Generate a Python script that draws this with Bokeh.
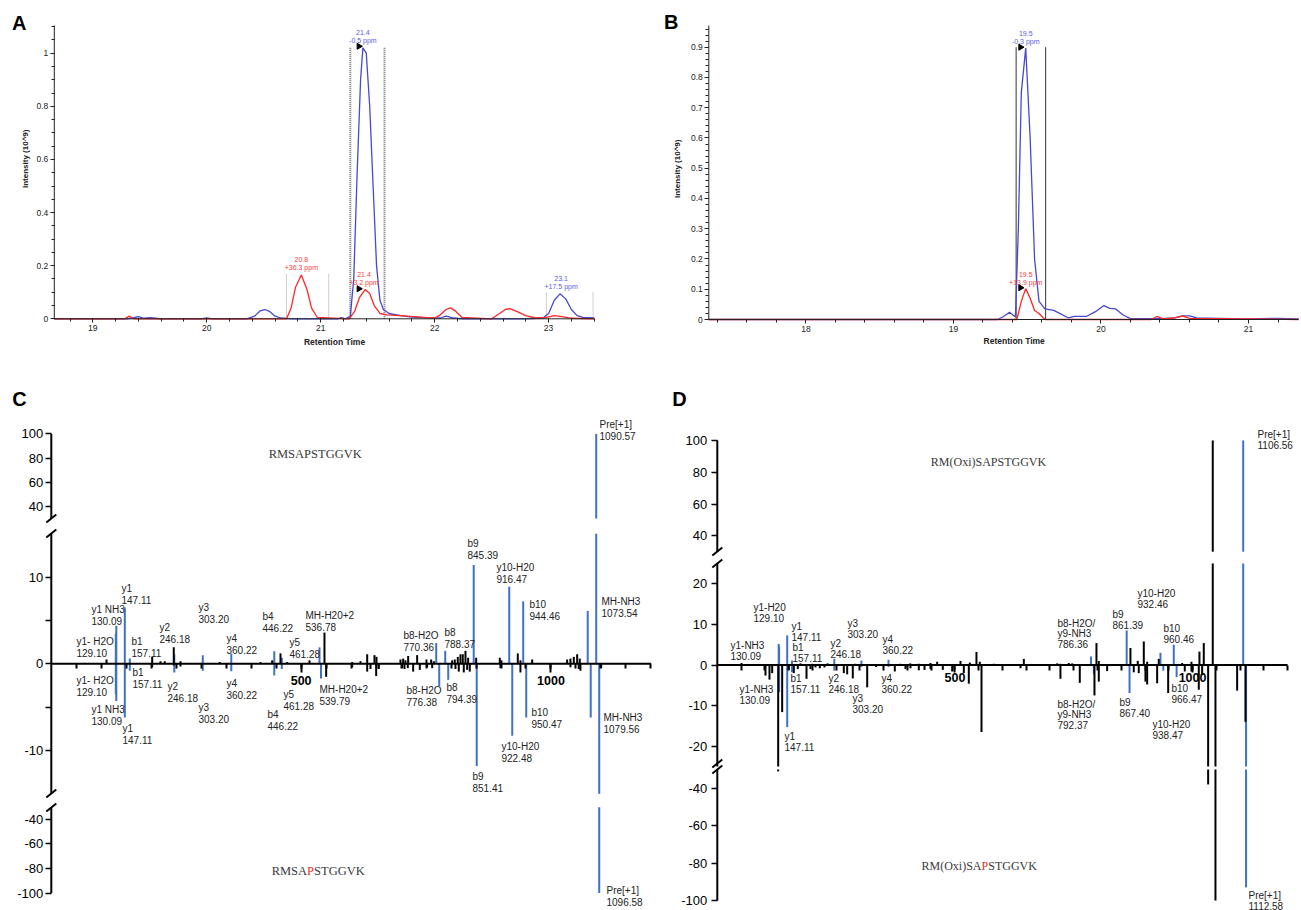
import numpy as np
from bokeh.plotting import figure
from bokeh.models import Range1d, FixedTicker, CustomJSTickFormatter
from bokeh.layouts import row, column
from bokeh.embed import file_html
from bokeh.resources import INLINE
from bokeh.core.properties import value

# ======================= DATA =======================
# ---- Panel A: extracted ion chromatograms (retention time, intensity 10^9)
a_blue_rt = [18.66, 19.30, 19.35, 19.40, 19.45, 19.50, 19.55, 19.60, 19.95, 20.00, 20.05, 20.35, 20.42,
             20.47, 20.51, 20.55, 20.60, 20.65, 20.75, 21.15, 21.18, 21.22, 21.26, 21.29, 21.32, 21.35,
             21.37, 21.40, 21.43, 21.46, 21.49, 21.52, 21.55, 21.60, 21.70, 21.80, 21.95, 22.05, 22.10,
             22.15, 22.25, 22.80, 22.95, 23.00, 23.05, 23.10, 23.15, 23.20, 23.25, 23.30, 23.40]
a_blue_int = [0, 0, 0.003, 0.008, 0.002, 0.004, 0.002, 0, 0, 0.003, 0, 0, 0.010,
              0.030, 0.035, 0.028, 0.010, 0.003, 0, 0, 0.004, 0, 0.010, 0.150, 0.550, 0.900,
              1.020, 1.000, 0.800, 0.500, 0.200, 0.070, 0.035, 0.020, 0.012, 0.006, 0.004, 0.003, 0.010,
              0.004, 0, 0, 0.003, 0.020, 0.070, 0.094, 0.075, 0.035, 0.012, 0.005, 0.003]
a_red_rt = [18.66, 19.28, 19.32, 19.36, 20.70, 20.74, 20.78, 20.83, 20.88, 20.92, 20.97, 21.25, 21.30,
            21.34, 21.39, 21.43, 21.47, 21.52, 21.58, 21.70, 21.90, 22.00, 22.05, 22.10, 22.14, 22.18,
            22.24, 22.50, 22.57, 22.62, 22.66, 22.72, 22.80, 22.88, 22.98, 23.05, 23.12, 23.20, 23.40]
a_red_int = [0, 0, 0.010, 0, 0, 0.040, 0.120, 0.165, 0.110, 0.040, 0.005, 0, 0.030,
             0.080, 0.110, 0.095, 0.050, 0.020, 0.015, 0.012, 0.005, 0.003, 0.015, 0.035, 0.041, 0.030,
             0.005, 0, 0.020, 0.035, 0.038, 0.028, 0.012, 0.003, 0.005, 0.012, 0.008, 0.002, 0]
a_ann_rt = [21.37, 20.83, 21.38, 23.11]
a_ann_time = ["21.4", "20.8", "21.4", "23.1"]
a_ann_ppm = ["-0.5 ppm", "+36.3 ppm", "+3.2 ppm", "+17.5 ppm"]
a_ann_trace = ["blue", "red", "red", "blue"]
a_apex_rt = [21.335, 21.335]
a_apex_int = [1.026, 0.113]
a_win_rt = [21.26, 21.56]          # integration window (dashed)
a_win_top = 1.023
a_bound_rt = [20.70, 21.07, 22.98, 23.39]
a_bound_top = [0.169, 0.169, 0.100, 0.100]
a_xticks = [19, 20, 21, 22, 23]
a_yticks = [0, 0.2, 0.4, 0.6, 0.8, 1.0]

# ---- Panel B
b_blue_rt = [17.34, 19.30, 19.34, 19.38, 19.42, 19.44, 19.46, 19.49, 19.52, 19.55, 19.58, 19.62, 19.68,
             19.72, 19.78, 19.82, 19.90, 19.96, 20.02, 20.06, 20.10, 20.15, 20.20, 20.40, 20.50, 20.56,
             20.60, 20.65, 20.80, 21.00, 21.20, 21.34]
b_blue_int = [0, 0, 0.010, 0.024, 0.008, 0.300, 0.750, 0.897, 0.600, 0.200, 0.060, 0.035, 0.030,
              0.020, 0.005, 0.010, 0.010, 0.025, 0.046, 0.037, 0.035, 0.015, 0.003, 0.003, 0.005, 0.012,
              0.012, 0.005, 0.004, 0.002, 0.004, 0.002]
b_red_rt = [17.34, 19.43, 19.46, 19.49, 19.52, 19.55, 19.58, 19.62, 20.34, 20.38, 20.42, 20.50, 20.55,
            20.60, 21.34]
b_red_int = [0, 0, 0.060, 0.102, 0.070, 0.030, 0.020, 0, 0, 0.010, 0.002, 0.005, 0.012, 0.004, 0]
b_ann_rt = [19.49, 19.49]
b_ann_time = ["19.5", "19.5"]
b_ann_ppm = ["-0.3 ppm", "+13.9 ppm"]
b_ann_trace = ["blue", "red"]
b_apex_rt = [19.455, 19.455]
b_apex_int = [0.900, 0.105]
b_win_rt = [19.425, 19.625]
b_win_top = 0.90
b_xticks = [18, 19, 20, 21]
b_yticks = [0, 0.1, 0.2, 0.3, 0.4, 0.5, 0.6, 0.7, 0.8, 0.9]

# ---- Panel C: mirrored MS/MS spectra (m/z, relative intensity)
c_up_names = ["y1- H2O", "y1 NH3", "y1", "b1", "y2", "y3", "y4", "b4", "y5", "MH-H20+2", "b8-H2O", "b8",
              "b9", "y10-H20", "b10", "MH-NH3", "Pre[+1]"]
c_up_mz = [129.10, 130.09, 147.11, 157.11, 246.18, 303.20, 360.22, 446.22, 461.28, 536.78, 770.36, 788.37,
           845.39, 916.47, 944.46, 1073.54, 1090.57]
c_up_int = [3.5, 4.4, 6.5, 0.6, 1.1, 1.0, 1.15, 1.45, 0.7, 1.9, 2.4, 1.5, 11.4, 8.9, 7.2, 6.1, 100]
c_lo_names = ["y1- H2O", "y1 NH3", "y1", "b1", "y2", "y3", "y4", "b4", "y5", "MH-H20+2", "b8-H2O", "b8",
              "b9", "y10-H20", "b10", "MH-NH3", "Pre[+1]"]
c_lo_mz = [129.10, 130.09, 147.11, 157.11, 246.18, 303.20, 360.22, 446.22, 461.28, 539.79, 776.38, 794.39,
           851.41, 922.48, 950.47, 1079.56, 1096.58]
c_lo_int = [-3.5, -4.3, -6.2, -0.8, -1.0, -0.8, -0.85, -1.35, -0.6, -1.7, -2.6, -1.85, -11.8, -8.3, -6.2,
            -6.2, -100]
c_noise_up_mz = [110.5, 201.9, 218.5, 227.0, 245.1, 258.6, 337.0, 418.6, 442.0, 458.7, 472.0, 516.7, 546.7,
                 602.2, 618.8, 632.2, 646.8, 650.8, 698.8, 704.2, 708.8, 714.2, 732.2, 750.8, 760.2, 765.5,
                 802.3, 807.5, 813.5, 818.9, 823.5, 828.9, 834.2, 850.3, 897.6, 900.9, 933.6, 938.9, 962.4,
                 1032.4, 1039.0, 1045.7, 1052.4, 1057.6]
c_noise_up_int = [0.5, 0.8, 0.3, 0.3, 1.9, 0.3, 0.2, 0.2, 0.4, 1.2, 0.2, 0.4, 3.6,
                  0.2, 0.3, 1.1, 1.0, 0.8, 0.5, 0.6, 0.4, 0.9, 1.0, 0.5, 0.5, 0.3,
                  0.4, 0.5, 0.8, 1.1, 1.1, 1.5, 0.7, 0.7, 0.7, 0.4, 1.2, 0.4, 0.5,
                  0.5, 0.6, 0.8, 1.1, 0.6]
c_noise_lo_mz = [201.9, 245.1, 258.6, 550.1, 602.2, 632.2, 638.8, 650.2, 655.5, 702.2, 706.8, 713.4, 724.2,
                 737.5, 752.2, 762.3, 808.9, 815.5, 825.5, 832.3, 837.5, 898.9, 938.9, 1039.0, 1055.6,
                 1059.0, 1100.5]
c_noise_lo_int = [-0.4, -0.2, -0.3, -1.5, -0.4, -0.9, -0.6, -1.4, -0.6, -0.5, -0.6, -0.5, -0.9,
                  -0.7, -0.4, -0.5, -0.6, -0.9, -1.0, -0.7, -0.9, -0.5, -1.0, -0.4, -0.6, -0.8, -0.5]
c_peptide = "RMSAPSTGGVK"

# ---- Panel D
d_up_names = ["y1-H20", "y1-NH3", "y1", "b1", "y2", "y3", "y4", "b8-H2O/\ny9-NH3", "b9", "y10-H20", "b10",
              "Pre[+1]"]
d_up_mz = [129.10, 130.09, 147.11, 157.11, 246.18, 303.20, 360.22, 786.36, 861.39, 932.46, 960.46, 1106.56]
d_up_int = [5.2, 4.6, 7.3, 1.1, 1.5, 1.1, 1.3, 2.1, 8.5, 3.0, 5.0, 100]
d_lo_names = ["y1-NH3", "y1", "b1", "y2", "y3", "y4", "b8-H2O/\ny9-NH3", "b9", "y10-H20", "b10", "Pre[+1]"]
d_lo_mz = [130.09, 147.11, 157.11, 246.18, 303.20, 360.22, 792.37, 867.40, 938.47, 966.47, 1112.58]
d_lo_int = [-6.7, -15.3, -1.8, -1.4, -0.5, -0.5, -2.3, -6.9, -1.4, -3.0, -93]
d_noise_up_mz = [51.0, 175.0, 200.0, 232.0, 290.0, 385.0, 406.0, 424.0, 448.6, 462.6, 511.7, 531.3, 545.3,
                 552.3, 581.8, 645.0, 715.0, 722.0, 739.6, 746.7, 797.8, 802.7, 869.3, 884.7, 897.4, 904.5,
                 928.9, 978.1, 997.7, 1014.5, 1023.6, 1042.5]
d_noise_up_int = [0.5, 0.4, 0.3, 0.4, 0.3, 0.3, 0.4, 0.3, 0.5, 0.8, 1.0, 0.6, 3.2,
                  0.8, 0.3, 1.5, 0.4, 0.3, 0.5, 0.4, 5.4, 1.0, 4.2, 1.0, 5.8, 0.8,
                  1.5, 0.5, 0.8, 3.3, 5.4, 100]
d_noise_lo_mz = [101.4, 109.8, 115.5, 128.1, 136.5, 150.4, 161.0, 169.4, 187.7, 196.1, 206.6, 215.7, 225.5,
                 266.2, 273.3, 285.1, 315.4, 334.3, 373.5, 396.0, 406.5, 424.0, 436.0, 448.6, 474.5, 494.2,
                 518.7, 529.2, 555.9, 638.0, 722.0, 762.7, 793.6, 802.7, 820.3, 876.3, 886.8, 900.9, 904.5,
                 925.5, 948.7, 983.6, 997.7, 1013.1, 1020.2, 1032.8, 1048.2, 1093.8, 1111.3]
d_noise_lo_int = [-2.6, -3.6, -2.0, -31.0, -11.6, -1.2, -2.0, -1.0, -3.4, -1.0, -0.6, -0.8, -0.6,
                  -2.0, -2.3, -3.3, -5.5, -0.5, -1.6, -1.0, -0.8, -1.3, -1.2, -1.0, -1.2, -1.6,
                  -2.0, -4.6, -16.5, -0.8, -3.4, -4.4, -7.5, -4.1, -1.5, -1.8, -2.0, -4.1, -4.8,
                  -4.5, -6.9, -1.6, -1.6, -6.1, -2.5, -38.0, -100.0, -6.3, -14.0]
d_peptide = "RM(Oxi)SAPSTGGVK"
site_residue = "P"   # residue drawn in red in the lower (phospho) spectra

ms_ticks_top = [100, 80, 60, 40]
ms_ticks_bot = [-40, -60, -80, -100]
c_ticks_mid = [10, 5, 0, -5, -10]
c_ticks_mid_lab = ["10", "", "0", "", "-10"]
d_ticks_mid = [20, 10, 0, -10, -20]
d_ticks_mid_lab = ["20", "10", "0", "-10", "-20"]
mz_ticks = [500, 1000]
mz_minor = list(range(50, 1201, 50))

# ======================= STYLE / LAYOUT =======================
SANS = "Liberation Sans"
SERIF = "Liberation Serif"
TR_COL = {"blue": "#4747cf", "red": "#ff2626"}
ANN_COL = {"blue": "#5c5ce6", "red": "#ff3b3b"}
PK_BLUE = "#3f72c6"
PK_BLACK = "#000000"


class Lin:
    """linear map reference-pixel -> data value"""
    def __init__(self, p1, v1, p2, v2):
        self.a = (v2 - v1) / (p2 - p1)
        self.b = v1 - self.a * p1

    def __call__(self, px):
        return self.a * px + self.b

    def inv(self, v):
        return (v - self.b) / self.a


def make_fig(box, X, Y):
    l, r, t, b = box
    p = figure(width=r - l, height=b - t, x_range=Range1d(X(l), X(r)), y_range=Range1d(Y(b), Y(t)),
               output_backend="svg", toolbar_location=None, min_border=0)
    p.min_border_left = p.min_border_right = p.min_border_top = p.min_border_bottom = 0
    p.xgrid.visible = False
    p.ygrid.visible = False
    p.outline_line_color = None
    p.background_fill_color = "white"
    p.border_fill_color = "white"
    return p


def txt(p, x, y, t, size, color="#000", align="left", base="middle", bold=False, font=SANS, angle=0):
    p.text(x=x, y=y, text=t, text_font=value(font), text_font_size=size, text_color=color,
           text_align=align, text_baseline=base, text_font_style="bold" if bold else "normal",
           angle=angle)


def build_xic(box, X, Y, axis_px, right_px, ytop_px, letter, letter_px, blue, red, xticks, xminor,
              yticks, yminor, ann, apex, win, win_style, bounds, ylab_px, xlab_px):
    p = make_fig(box, X, Y)
    x0, x1, ytop = X(axis_px), X(right_px), Y(ytop_px)
    xa, ya = p.xaxis[0], p.yaxis[0]
    xa.fixed_location = 0
    ya.fixed_location = x0
    for ax in (xa, ya):
        ax.axis_line_color = None
        ax.major_tick_in = 0
        ax.minor_tick_in = 0
        ax.major_tick_out = 4
        ax.minor_tick_out = 3
        ax.major_tick_line_color = "#222"
        ax.minor_tick_line_color = "#222"
        ax.major_label_text_font = SANS
        ax.major_label_text_font_size = "8.5px"
        ax.major_label_text_color = "#222"
        ax.major_label_standoff = 2
        ax.formatter = CustomJSTickFormatter(code="return String(Math.round(tick*100)/100)")
    xa.ticker = FixedTicker(ticks=xticks, minor_ticks=xminor)
    ya.ticker = FixedTicker(ticks=yticks, minor_ticks=yminor)
    # integration window and boundaries
    wr, wtop = win
    if win_style == "dash":
        p.segment(x0=wr, y0=[0] * len(wr), x1=wr, y1=[wtop] * len(wr), line_color="#777",
                  line_width=2, line_dash="1 1")
    else:
        p.segment(x0=wr, y0=[0] * len(wr), x1=wr, y1=[wtop] * len(wr), line_color="#333", line_width=1)
    if bounds:
        br, bt = bounds
        p.segment(x0=br, y0=[0] * len(br), x1=br, y1=bt, line_color="#cfcfcf", line_width=1)
    # traces
    p.line(blue[0], blue[1], line_color=TR_COL["blue"], line_width=1.3)
    p.line(red[0], red[1], line_color=TR_COL["red"], line_width=1.3)
    # axis lines
    p.segment(x0=[x0, x0], y0=[0, 0], x1=[x1, x0], y1=[0, ytop], line_color="#222", line_width=1)
    # peak annotations
    a_rt, a_time, a_ppm, a_tr, a_py = ann
    for rt, t1, t2, tr, py in zip(a_rt, a_time, a_ppm, a_tr, a_py):
        txt(p, [rt, rt], [Y(py), Y(py + 7.8)], [t1, t2], "7px", ANN_COL[tr], align="center")
    p.scatter(x=apex[0], y=apex[1], marker="triangle", angle=-np.pi / 2, size=6, color="black")
    # labels
    txt(p, [X(letter_px[0])], [Y(letter_px[1])], [letter], "20px", "#000", align="center", bold=True)
    txt(p, [X(ylab_px[0])], [Y(ylab_px[1])], ["Intensity (10^9)"], "8px", "#222", align="center",
        bold=True, angle=np.pi / 2)
    txt(p, [X(xlab_px[0])], [Y(xlab_px[1])], ["Retention Time"], "8.5px", "#222", align="center", bold=True)
    return p


def bars(p, mz, vals, color, lw, brk_mid, brk_out):
    mz = np.asarray(mz, float)
    v = np.asarray(vals, float)
    mid = np.clip(v, -brk_mid, brk_mid)
    p.segment(x0=mz, y0=np.zeros_like(mz), x1=mz, y1=mid, line_color=color, line_width=lw)
    hi = v > brk_mid
    if hi.any():
        p.segment(x0=mz[hi], y0=np.full(hi.sum(), brk_out), x1=mz[hi], y1=v[hi], line_color=color,
                  line_width=lw, y_range_name="top")
    lo = v < -brk_mid
    if lo.any():
        p.segment(x0=mz[lo], y0=np.full(lo.sum(), -brk_out), x1=mz[lo], y1=v[lo], line_color=color,
                  line_width=lw, y_range_name="bot")


TIMES_W = {"R": .667, "M": .889, "S": .556, "A": .722, "P": .556, "T": .611, "G": .722, "V": .722,
           "K": .722, "(": .333, ")": .333, "O": .722, "x": .5, "i": .278}


def peptide(p, X, Y, text, center_px, y_px, size, red_residue=None):
    if red_residue is None:
        txt(p, [X(center_px)], [Y(y_px)], [text], f"{size}px", "#3a3a3a", align="center", font=SERIF)
        return
    k = text.rindex(red_residue)
    total = sum(TIMES_W[c] for c in text) * size
    left = center_px - total / 2
    pl = left + sum(TIMES_W[c] for c in text[:k]) * size
    pr = pl + TIMES_W[red_residue] * size
    txt(p, [X(pl)], [Y(y_px)], [text[:k]], f"{size}px", "#3a3a3a", align="right", font=SERIF)
    txt(p, [X(pl)], [Y(y_px)], [text[k]], f"{size}px", "#e8321e", align="left", font=SERIF)
    txt(p, [X(pr)], [Y(y_px)], [text[k + 1:]], f"{size}px", "#3a3a3a", align="left", font=SERIF)


def build_ms(box, X, Y, YT, YB, brk_mid, brk_out, letter, letter_px, up, lo, nup, nlo, up_lab, lo_lab, dy,
             ticks_mid, ticks_mid_lab, pep, pep_up_px, pep_lo_px, pep_size, slash_px, xt_out, x_standoff,
             y_standoff):
    p = make_fig(box, X, Y)
    b = box
    p.extra_y_ranges = {"top": Range1d(YT(b[3]), YT(b[2])), "bot": Range1d(YB(b[3]), YB(b[2]))}
    # peaks: annotated (blue) first, unannotated (black) on top
    bars(p, up[1], up[2], PK_BLUE, 2, brk_mid, brk_out)
    bars(p, lo[1], lo[2], PK_BLUE, 2, brk_mid, brk_out)
    bars(p, nup[0], nup[1], PK_BLACK, 2, brk_mid, brk_out)
    bars(p, nlo[0], nlo[1], PK_BLACK, 2, brk_mid, brk_out)
    # axes
    xa, ya = p.xaxis[0], p.yaxis[0]
    xa.fixed_location = 0
    ya.fixed_location = 0
    xa.ticker = FixedTicker(ticks=mz_ticks, minor_ticks=mz_minor)
    xa.formatter = CustomJSTickFormatter(code="return String(Math.round(tick))")
    xa.axis_line_color = None
    xa.major_tick_in = 0
    xa.minor_tick_in = 0
    xa.major_tick_out = xt_out
    xa.minor_tick_out = 5
    xa.major_tick_line_width = 2
    xa.minor_tick_line_width = 2
    xa.major_label_text_font = SANS
    xa.major_label_text_font_size = "12.5px"
    xa.major_label_text_font_style = "bold"
    xa.major_label_text_color = "#000"
    xa.major_label_standoff = x_standoff
    pos, lab = [], []
    for v in ms_ticks_top:
        pos.append(round(Y(YT.inv(v)), 4)); lab.append(str(v))
    for v, l in zip(ticks_mid, ticks_mid_lab):
        pos.append(float(v)); lab.append(l)
    for v in ms_ticks_bot:
        pos.append(round(Y(YB.inv(v)), 4)); lab.append(str(v))
    ya.ticker = FixedTicker(ticks=pos, minor_ticks=[])
    ya.formatter = CustomJSTickFormatter(args=dict(pos=pos, lab=lab), code="""
        for (let i = 0; i < pos.length; i++) { if (Math.abs(pos[i] - tick) < 1e-6) { return lab[i] } }
        return "";""")
    ya.axis_line_color = None
    ya.major_tick_in = 0
    ya.major_tick_out = 6
    ya.major_tick_line_width = 1.5
    ya.minor_tick_line_color = None
    ya.major_label_text_font = SANS
    ya.major_label_text_font_size = "13px"
    ya.major_label_text_color = "#000"
    ya.major_label_standoff = y_standoff
    # axis lines with breaks
    p.segment(x0=[0], y0=[brk_out], x1=[0], y1=[100], line_color="black", line_width=2, y_range_name="top")
    p.segment(x0=[0, 0], y0=[-brk_mid, 0], x1=[0, 1200], y1=[brk_mid, 0], line_color="black", line_width=2)
    p.segment(x0=[0], y0=[-brk_out], x1=[0], y1=[-100], line_color="black", line_width=2, y_range_name="bot")
    ax_px = X.inv(0)
    p.segment(x0=[X(ax_px - 5)] * len(slash_px), y0=[Y(s + 4) for s in slash_px],
              x1=[X(ax_px + 5)] * len(slash_px), y1=[Y(s - 4) for s in slash_px],
              line_color="black", line_width=2)
    # fragment labels
    xs, ys, ts = [], [], []
    for (names, mzs), labs in ((up[0:2], up_lab), (lo[0:2], lo_lab)):
        for n, m, (lx, ly) in zip(names, mzs, labs):
            lines = n.split("\n") + [f"{m:.2f}"]
            for i, t in enumerate(lines):
                xs.append(X(lx)); ys.append(Y(ly + i * dy)); ts.append(t)
    txt(p, xs, ys, ts, "10px", "#222")
    # peptides
    peptide(p, X, Y, pep, pep_up_px[0], pep_up_px[1], pep_size)
    peptide(p, X, Y, pep, pep_lo_px[0], pep_lo_px[1], pep_size, site_residue)
    txt(p, [X(letter_px[0])], [Y(letter_px[1])], [letter], "20px", "#000", align="center", bold=True)
    return p


# ---- Panel A
A_BOX = (0, 650, 0, 365)
A_X = Lin(92.3, 19, 548.1, 23)
A_Y = Lin(318.3, 0, 52.7, 1)
pA = build_xic(A_BOX, A_X, A_Y, 53.8, 594, 25, "A", (18.8, 22),
               (a_blue_rt, a_blue_int), (a_red_rt, a_red_int),
               a_xticks, [round(18.8 + 0.2 * i, 2) for i in range(24)],
               a_yticks, [round(0.05 * i, 2) for i in range(23)],
               (a_ann_rt, a_ann_time, a_ann_ppm, a_ann_trace, [31.7, 259.3, 274.3, 278.3]),
               (a_apex_rt, a_apex_int), (a_win_rt, a_win_top), "dash",
               (a_bound_rt, a_bound_top), (25, 158.3), (334, 341.7))

# ---- Panel B
B_BOX = (650, 1301, 0, 365)
B_X = Lin(805.4, 18, 1248, 21)
B_Y = Lin(319, 0, 46.7, 0.9)
pB = build_xic(B_BOX, B_X, B_Y, 708.3, 1298, 25, "B", (670.8, 21),
               (b_blue_rt, b_blue_int), (b_red_rt, b_red_int),
               b_xticks, [round(17.4 + 0.2 * i, 2) for i in range(20)],
               b_yticks, [round(0.02 * i, 2) for i in range(49)],
               (b_ann_rt, b_ann_time, b_ann_ppm, b_ann_trace, [33.3, 274]),
               (b_apex_rt, b_apex_int), (b_win_rt, b_win_top), "solid",
               None, (677, 168.3), (1013.7, 340.7))

# ---- Panel C
C_BOX = (0, 660, 365, 910)
C_X = Lin(50.8, 0, 650.4, 1200)
C_Y = Lin(663.3, 0, 576.6, 10)
C_YT = Lin(506, 40, 433.4, 100)
C_YB = Lin(819, -40, 892.5, -100)
C_UP_LAB = [(76, 641), (91, 609), (121, 588), (131, 641), (159, 627), (198, 607), (226, 638), (262, 616),
            (289, 642), (305, 615), (403, 635), (444, 632), (467, 543), (496, 567), (529, 604), (601, 601),
            (599, 424)]
C_LO_LAB = [(76, 680), (91, 709), (122, 728), (132, 672), (167, 686), (198, 707), (226, 683), (267, 714),
            (283, 694), (319, 689), (406, 690), (446, 687), (472, 776), (501, 746), (531, 712), (603, 717),
            (606, 890)]
pC = build_ms(C_BOX, C_X, C_Y, C_YT, C_YB, 15, 30, "C", (19, 398),
              (c_up_names, c_up_mz, c_up_int), (c_lo_names, c_lo_mz, c_lo_int),
              (c_noise_up_mz, c_noise_up_int), (c_noise_lo_mz, c_noise_lo_int),
              C_UP_LAB, C_LO_LAB, 11, c_ticks_mid, c_ticks_mid_lab, c_peptide,
              (314.7, 453), (317.7, 870), 12.5, [518, 533, 793, 807], 9, 3, 2)

# ---- Panel D
D_BOX = (660, 1301, 365, 910)
D_X = Lin(716.8, 0, 1242.7, 1106.56)
D_Y = Lin(664.5, 0, 623.9, 10)
D_YT = Lin(535.3, 40, 440, 100)
D_YB = Lin(787.7, -40, 900, -100)
D_UP_LAB = [(753, 607), (730, 645), (791, 626), (792, 647), (830, 643), (847, 623), (882, 639),
            (1057, 623), (1112, 614), (1137, 593), (1163, 628), (1257, 434)]
D_LO_LAB = [(739, 689), (784, 736), (790, 678), (828, 678), (852, 698), (881, 678), (1057, 704),
            (1119, 702), (1152, 724), (1171, 688), (1248, 895)]
pD = build_ms(D_BOX, D_X, D_Y, D_YT, D_YB, 25, 30, "D", (679, 398),
              (d_up_names, d_up_mz, d_up_int), (d_lo_names, d_lo_mz, d_lo_int),
              (d_noise_up_mz, d_noise_up_int), (d_noise_lo_mz, d_noise_lo_int),
              D_UP_LAB, D_LO_LAB, 10, d_ticks_mid, d_ticks_mid_lab, d_peptide,
              (988, 461.7), (978.7, 865), 12, [551, 563, 763, 769], 7, 1, 4)

layout = column(row(pA, pB, spacing=0), row(pC, pD, spacing=0), spacing=0)
open("out.html", "w").write(file_html(layout, INLINE))
